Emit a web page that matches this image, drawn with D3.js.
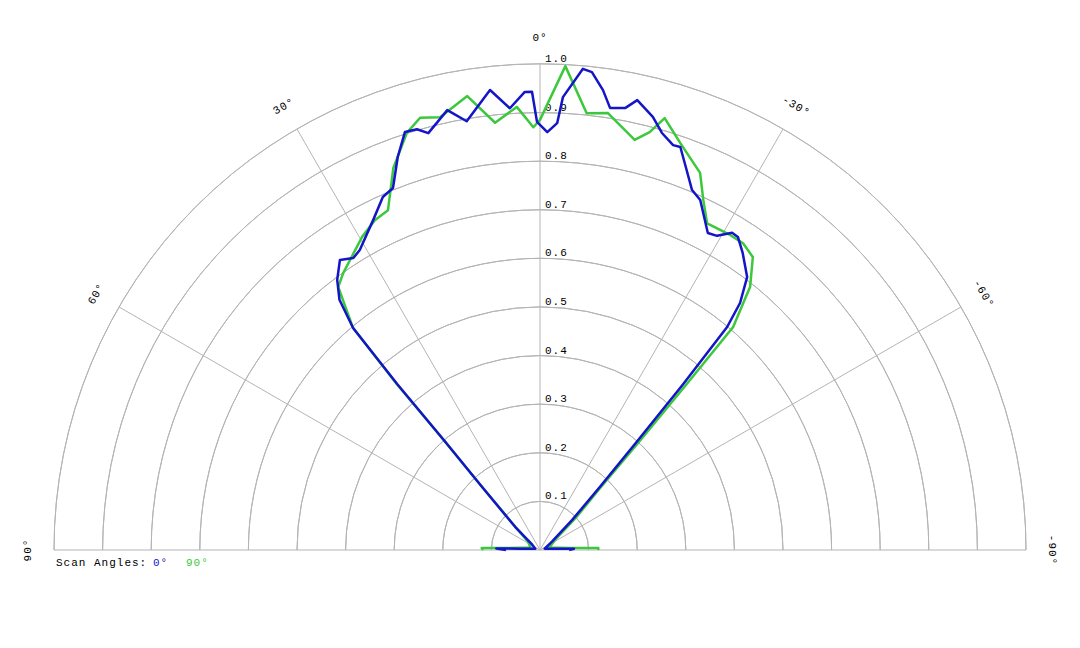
<!DOCTYPE html>
<html>
<head>
<meta charset="utf-8">
<script src="https://cdn.jsdelivr.net/npm/d3@7"></script>
<style>
  body { margin: 0; background: #fff; }
  text { font-family: "Liberation Mono", "DejaVu Sans Mono", monospace; font-size: 11px; }
</style>
</head>
<body>
<svg id="chart" width="1080" height="648"></svg>
<script>
// angles in degrees, positive to the left of 0
const blueAngles = [90, 88, 86, 75, 55, 47, 42.5, 41.2, 40.7, 40.1, 38.7, 36.9, 34.6, 32.6, 31.0, 26.8, 24.0, 22.1, 19.9, 17.9, 16.3, 15.0, 11.9, 9.7, 6.2, 3.9, 1.9, 1.0, 0.4, -1.0, -2.3, -2.9, -5.1, -6.2, -7.8, -9.0, -10.9, -12.2, -14.6, -16.3, -18.2, -19.2, -21.1, -22.9, -24.6, -27.9, -29.4, -31.2, -32.3, -34.3, -37.2, -39.0, -40.0, -40.8, -41.8, -43.5, -47, -55, -75, -86, -88, -90];
const blueValues = [0.07, 0.09, 0.04, 0.01, 0.02, 0.07, 0.18, 0.3, 0.45, 0.597, 0.66, 0.695, 0.725, 0.713, 0.72, 0.761, 0.795, 0.804, 0.86, 0.904, 0.902, 0.888, 0.925, 0.895, 0.952, 0.911, 0.943, 0.943, 0.881, 0.86, 0.879, 0.933, 0.994, 0.989, 0.955, 0.921, 0.926, 0.947, 0.921, 0.894, 0.877, 0.878, 0.838, 0.804, 0.792, 0.738, 0.742, 0.763, 0.762, 0.740, 0.705, 0.654, 0.599, 0.45, 0.3, 0.18, 0.09, 0.03, 0.01, 0.04, 0.07, 0.06];
const greenAngles = [90, 88, 86, 75, 55, 46, 42.5, 41.2, 40.8, 40.1, 37.5, 35.4, 29.6, 26.6, 24.1, 21.0, 17.7, 15.5, 13.0, 9.1, 6.0, 3.0, 0.9, 0, -3.0, -6.1, -8.8, -13.0, -14.7, -16.1, -19.0, -23.0, -25.0, -27.1, -31.1, -33.5, -36.0, -38.6, -40.9, -41.5, -42.5, -44, -48, -55, -75, -86, -88, -90];
const greenValues = [0.117, 0.12, 0.06, 0.02, 0.03, 0.08, 0.18, 0.3, 0.45, 0.597, 0.682, 0.699, 0.741, 0.759, 0.766, 0.842, 0.901, 0.923, 0.914, 0.946, 0.884, 0.913, 0.870, 0.885, 0.997, 0.904, 0.910, 0.866, 0.889, 0.925, 0.886, 0.843, 0.795, 0.755, 0.757, 0.757, 0.745, 0.693, 0.607, 0.45, 0.3, 0.18, 0.1, 0.04, 0.02, 0.06, 0.12, 0.12];
const ringValues = [0.1, 0.2, 0.3, 0.4, 0.5, 0.6, 0.7, 0.8, 0.9, 1.0];
const spokeAngles = [90, 60, 30, 0, -30, -60, -90];
const spokeLabels = ["90°", "60°", "30°", "0°", "-30°", "-60°", "-90°"];
const legendNames = ["0°", "90°"];

const blueColor = "#1414c8";
const greenColor = "#3cc83c";
const cx = 540, cy = 550;

const svg = d3.select("#chart");
const g = svg.append("g").attr("transform", `translate(${cx},${cy})`);

const rScale = d3.scaleLinear().domain([0, 1]).range([0, 486]);
const toRad = a => -a * Math.PI / 180;

// rings (upper half)
const arc = d3.arc().startAngle(-Math.PI / 2).endAngle(Math.PI / 2);
g.selectAll("path.ring").data(ringValues).enter().append("path")
    .attr("class", "ring")
    .attr("d", d => arc({innerRadius: rScale(d), outerRadius: rScale(d)}))
    .attr("fill", "none").attr("stroke", "#b4b4b4").attr("stroke-width", 1);

g.selectAll("line.spoke").data(spokeAngles).enter().append("line")
    .attr("class", "spoke")
    .attr("x1", 0).attr("y1", 0)
    .attr("x2", d => rScale(1) * Math.sin(toRad(d)))
    .attr("y2", d => -rScale(1) * Math.cos(toRad(d)))
    .attr("stroke", "#b4b4b4").attr("stroke-width", 1);

// ring labels
g.selectAll("text.rlab").data(ringValues).enter().append("text")
    .attr("class", "rlab")
    .attr("x", 5).attr("y", d => -rScale(d) - 2)
    .attr("letter-spacing", 1)
    .text(d => d.toFixed(1));

// angle labels
const labR = 512;
g.selectAll("text.alab").data(spokeAngles).enter().append("text")
    .attr("class", "alab")
    .attr("text-anchor", "middle")
    .attr("dominant-baseline", "middle")
    .attr("letter-spacing", 1)
    .attr("transform", d => {
        const x = labR * Math.sin(toRad(d)), y = -labR * Math.cos(toRad(d));
        return `translate(${x},${y}) rotate(${-d})`;
    })
    .text((d, i) => spokeLabels[i]);

const line = d3.lineRadial()
    .angle(d => toRad(d[0]))
    .radius(d => rScale(d[1]));

g.append("path")
    .datum(d3.zip(greenAngles, greenValues))
    .attr("d", line)
    .attr("fill", "none").attr("stroke", greenColor).attr("stroke-width", 2.5)
    .attr("stroke-linejoin", "round");

g.append("path")
    .datum(d3.zip(blueAngles, blueValues))
    .attr("d", line)
    .attr("fill", "none").attr("stroke", blueColor).attr("stroke-width", 2.5)
    .attr("stroke-linejoin", "round");

// legend
const leg = svg.append("text").attr("x", 56).attr("y", 566).attr("letter-spacing", 1);
leg.append("tspan").text("Scan Angles:").attr("fill", "#000");
leg.append("tspan").attr("x", 153).attr("fill", blueColor).text(legendNames[0]);
leg.append("tspan").attr("x", 186).attr("fill", greenColor).text(legendNames[1]);
</script>
</body>
</html>
